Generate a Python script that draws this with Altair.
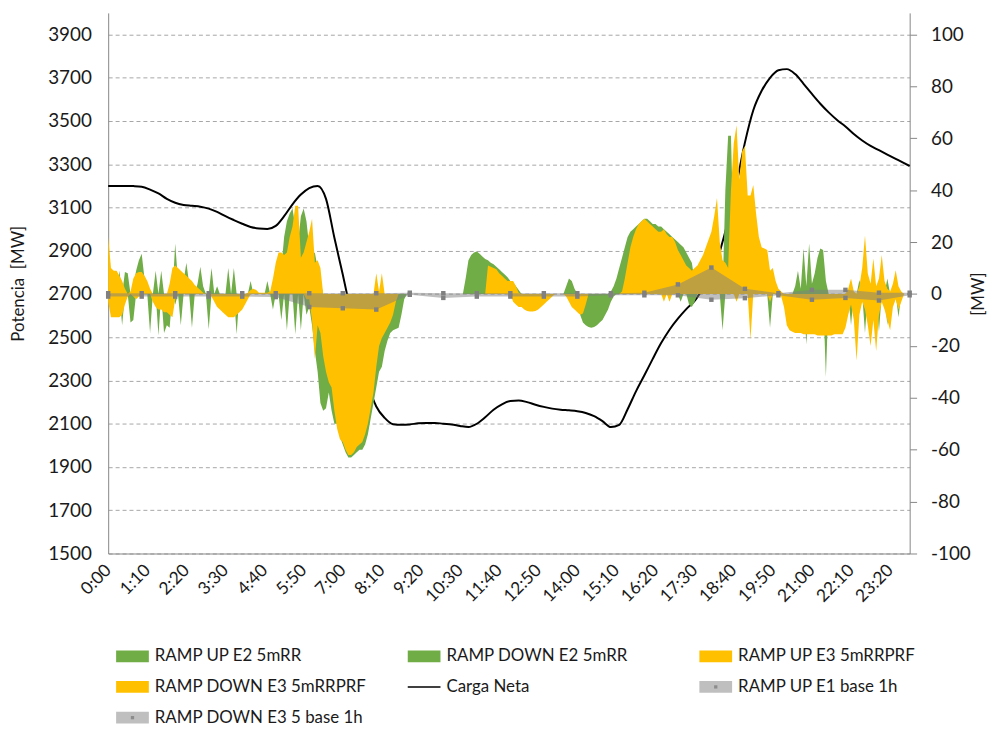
import altair as alt
import pandas as pd

FONT = "Lato"
TXT = "#1a1a1a"
GREEN = "#70AD47"
YELLOW = "#FFC000"
GRAY = "#7F7F7F"

# ---------------- 5-minute series (right axis, MW), 12 values per hour ----------------
ramp_up_e2 = [
    0, 0, 0, 0, 9, 0, 8.5, 8, 0, 3, 9, 13,
    15.5, 6, 0, 0, 0, 9, 0, 9, 0, 0, 0, 0,
    19.5, 5, 0, 5, 12, 4, 0, 0, 4, 10.5, 3, 0,
    0, 10, 0, 3, 0, 0, 0, 10, 0, 10, 0, 0,
    0, 0, 0, 5, 0, 0, 0, 0, 0, 5, 0, 0,
    0, 0, 10, 22, 28, 31, 33, 26, 20, 30, 33, 28,
    18, 15, 16, 10, 5, 0, 0, 0, 0, 0, 0, 0,
    0, 0, 0, 0, 0, 0, 0, 0, 0, 0, 0, 0,
    0, 0, 0, 0, 0, 0, 0, 0, 0, 0, 0, 0,
    0, 0, 0, 0, 0, 0, 0, 0, 0, 0, 0, 0,
    0, 0, 0, 0, 0, 0, 0, 0, 6, 13, 15, 16,
    16.4, 15.5, 14.5, 13.5, 13, 12, 11.5, 10.5, 9.5, 8.5, 7.5, 6.5,
    5, 4.5, 3, 1.5, 0, 0, 0, 0, 0, 0, 0, 0,
    0, 0, 0, 0, 0, 0, 0, 0, 3, 6, 5, 2,
    0, 0, 0, 0, 0, 0, 0, 0, 0, 0, 0, 0,
    1, 3, 6, 10, 14, 18, 22, 24, 25, 26, 27, 28,
    29, 29, 28, 27, 27, 26, 26, 25, 24, 23, 22, 21,
    20, 19, 18, 16, 14, 12, 5, 0, 0, 0, 0, 0,
    0, 0, 0, 0, 0, 40, 61, 61, 20, 0, 0, 0,
    0, 0, 0, 0, 0, 0, 0, 0, 0, 0, 0, 0,
    0, 0, 0, 0, 0, 0, 3, 9, 2, 17.5, 3, 19.5,
    4, 8, 14, 17.5, 17, 5, 0, 0, 0, 0, 0, 0,
    0, 0, 0, 0, 0, 5.4, 0, 0, 0, 0, 0, 0,
    0, 0, 0, 6, 0, 0, 0, 0, 0, 0, 0, 0,
]
ramp_down_e2 = [
    0, 0, 0, 0, 0, -12, 0, 0, -11, -10, 0, 0,
    0, 0, 0, -15, 0, 0, -16, 0, -15, -12, -13, 0,
    -4, 0, -12, 0, 0, 0, -13, 0, 0, 0, 0, 0,
    -13.6, 0, 0, 0, 0, 0, 0, 0, 0, 0, -15.5, 0,
    0, 0, 0, 0, 0, 0, 0, 0, 0, 0, 0, -6,
    0, 0, -10, 0, -14, 0, 0, -15.5, 0, -14, 0, -8,
    -5, -12, -22, -30, -42, -45, -44, -38, -45, -50, -50, -55,
    -58, -61, -63, -63, -62, -61, -60, -60, -58, -54, -48, -42,
    -36, -30, -28, -22, -18, -15, -14, -13.5, -13, -8, -2, 0,
    0, 0, 0, 0, 0, 0, 0, 0, 0, 0, 0, 0,
    0, 0, 0, 0, 0, 0, 0, 0, 0, 0, 0, 0,
    0, 0, 0, 0, 0, 0, 0, 0, 0, 0, 0, 0,
    0, 0, 0, 0, 0, 0, 0, 0, 0, 0, 0, 0,
    0, 0, 0, 0, 0, 0, 0, 0, 0, 0, 0, -2,
    -5, -8, -11, -12, -12.7, -13, -12.7, -12, -11, -10, -8, -6,
    -3, -1, 0, 0, 0, 0, 0, 0, 0, 0, 0, 0,
    0, 0, 0, 0, 0, 0, 0, 0, 0, 0, 0, 0,
    0, -3, 0, 0, -4, -5, -3, 0, 0, 0, 0, 0,
    0, 0, 0, 0, -14, 0, 0, 0, 0, 0, 0, 0,
    0, 0, 0, 0, 0, 0, 0, 0, 0, -13, 0, 0,
    0, 0, 0, 0, 0, 0, 0, 0, 0, 0, -19.5, 0,
    0, 0, 0, 0, 0, -32, 0, 0, 0, 0, 0, 0,
    0, 0, -12, 0, 0, 0, 0, -15, 0, 0, 0, 0,
    -14.5, 0, 0, -12, 0, 0, 0, -9, 0, 0, 0, 0,
]
ramp_up_e3 = [
    22, 10, 9, 9, 7, 5, 2, 0, 1, 6, 8, 8.5,
    8.5, 7, 5, 2, 0, 0, 0, 0, 0, 0, 4, 10,
    11, 10, 9, 8, 7, 6, 5, 3.5, 2.5, 1.5, 0.5, 0,
    0, 0, 0, 0, 0, 0, 0, 0, 0, 0, 0, 0,
    0, 0, 0.5, 1.5, 2, 1.5, 0.5, 0.5, 0.5, 0.5, 1, 6,
    12, 16, 16, 15, 16, 22, 26, 34, 34, 14, 16, 20,
    24, 29, 12, 13, 10, 0, 0, 0, 0, 0, 0, 0,
    0, 0, 0, 0, 0, 0, 0, 0, 0, 0, 0, 0,
    8, 1, 8, 0, 0, 0, 0, 0, 0, 0, 0, 0,
    0, 0, 0, 0, 0, 0, 0, 0, 0, 0, 0, 0,
    0, 0, 0, 0, 0, 0, 0, 0, 0, 0, 0, 0,
    0, 0, 0, 0, 11, 10.5, 10, 9.5, 8, 7, 6, 5,
    5, 5, 3, 0.5, 0, 0, 0, 0, 0, 0, 0, 0,
    0, 0, 0, 0, 0, 0, 0, 0, 0, 0, 0, 0,
    0, 0, 0, 0, 0, 0, 0, 0, 0, 0, 0, 0,
    0, 0, 0, 0, 1, 6, 12, 18, 22, 25, 27, 28,
    29, 28, 27, 26, 25, 24, 24, 25, 23, 22, 22, 20,
    17, 15, 13, 11, 10, 9, 10, 11, 13, 15, 18, 21,
    24, 30, 37, 20, 13, 12, 10, 40, 58, 65, 44, 55,
    57, 38, 38, 42, 31, 22, 18, 17.5, 17, 9, 10, 5,
    2, 1, 0, 0, 0, 0, 0, 0, 0, 0, 0, 0,
    0, 0, 0, 0, 0, 0, 0, 0, 0, 0, 0, 0,
    0, 2, 6, 1, 0, 3, 10, 22.5, 8, 4, 13.7, 3,
    6, 15, 5, 2, 1, 4, 9.2, 3, 1, 0, 0, 0,
]
ramp_down_e3 = [
    -3, -9, -9, -9, -9, -8, -4, -1, 0, -1, -2, -1,
    -1, 0, 0, 0, -3, -5, -6, -6, -7, -7, -8, -9,
    -2, 0, 0, 0, 0, 0, 0, 0, 0, 0, 0, 0,
    0, -1, -3, -5, -6, -7, -8, -9, -9, -9, -8, -7,
    -6, -4, -2, 0, 0, 0, 0, 0, 0, 0, 0, 0,
    0, 0, 0, 0, 0, 0, 0, 0, 0, 0, 0, -2,
    -2, -10, -25, -12, -15, -24, -30, -34, -36, -45, -52, -56,
    -57, -60, -62, -62, -61, -59, -58, -57, -54, -50, -44, -38,
    -28, -20, -17, -15, -13, -11, -8, -3, 0, 0, 0, 0,
    0, 0, 0, 0, 0, 0, 0, 0, 0, 0, 0, 0,
    0, 0, 0, 0, 0, 0, 0, 0, 0, 0, 0, 0,
    0, 0, 0, 0, 0, 0, 0, 0, 0, 0, 0, 0,
    0, -3, -4, -5, -5, -6, -6.5, -6.7, -6.7, -6.5, -6, -5,
    -4, -3, -2, -1, 0, 0, 0, 0, -1, -3, -5, -6,
    -7, -8, -7.5, -4, 0, 0, 0, 0, 0, 0, 0, 0,
    0, 0, 0, 0, 0, 0, 0, 0, 0, 0, 0, 0,
    0, 0, 0, 0, 0, 0, 0, -3, 0, -3, 0, 0,
    0, 0, 0, 0, 0, 0, 0, 0, 0, 0, 0, 0,
    0, 0, 0, 0, 0, 0, 0, 0, 0, -3, 0, 0,
    0, 0, -17.5, 0, 0, 0, 0, 0, 0, -3, 0, 0,
    0, -1, -5, -12, -14, -14.5, -15, -15, -15, -15.5, -15.5, -15.5,
    -15.5, -15.5, -16, -16, -16, -16, -16, -16, -15.5, -15.5, -15.5, -15.5,
    -13, -8, -4, -10, -25.7, -8, -3, -6, -12, -20, -10, -22,
    -8, -3, -6, -10, -14, -5, -2, -6, -3, 0, 0, 0,
]

# ---------------- hourly series (right axis, MW) ----------------
hour_idx = [12 * h for h in range(24)] + [287]
ramp_up_e1_1h = [0.3, 0.3, 0.3, 0.3, 0.3, 0.3, 0.3, 0.3, 0.3, 0.5, 0.3, 0.3,
                 0.3, 0.3, 0.3, 0.3, 0.5, 3.7, 10.2, 2, 0.3, 1.6, 1.6, 0.5, 0.5]
ramp_down_e3_1h = [-1, -1, -1, -1, -1, -1.2, -5, -5.5, -6, -0.3, -1.5, -1,
                   -1, -1, -1, -0.5, -0.5, -0.5, -2.2, -1.6, -0.5, -2.2, -1.5, -2.5, -0.5]

# ---------------- Carga Neta (left axis, MW), every 15 minutes ----------------
carga_idx = list(range(0, 286, 3)) + [287]
carga_neta = [
    3200, 3200, 3200, 3199, 3196, 3183, 3165, 3140, 3122, 3112,
    3108, 3104, 3095, 3080, 3060, 3042, 3025, 3010, 3003, 3001,
    3015, 3060, 3115, 3160, 3190, 3200, 3140, 2960, 2790, 2610,
    2435, 2285, 2180, 2127, 2098, 2095, 2097, 2102, 2104, 2104,
    2100, 2097, 2090, 2085, 2100, 2130, 2165, 2190, 2205, 2208,
    2200, 2188, 2178, 2170, 2165, 2162, 2158, 2150, 2135, 2112,
    2085, 2095, 2167, 2250, 2324, 2400, 2473, 2535, 2586, 2630,
    2668, 2725, 2770, 2895, 3040, 3210, 3400, 3550, 3640, 3700,
    3735, 3740, 3717, 3672, 3625, 3580, 3540, 3505, 3475, 3440,
    3410, 3385, 3365, 3345, 3325, 3305, 3292,
]

tick_idx = list(range(0, 281, 14))
left_ticks = list(range(1500, 3901, 200))
right_ticks = list(range(-100, 101, 20))

series_names = ["RAMP UP E2 5mRR", "RAMP DOWN E2 5mRR", "RAMP UP E3 5mRRPRF",
                "RAMP DOWN E3 5mRRPRF", "Carga Neta", "RAMP UP E1 base 1h",
                "RAMP DOWN E3 5 base 1h"]
series_colors = [GREEN, GREEN, YELLOW, YELLOW, "#000000", "#BFBFBF", "#BFBFBF"]
marker_colors = ["rgba(0,0,0,0)"] * 5 + ["#8C8C8C", "#8C8C8C"]
RECT = "M-1,-0.36H1V0.36H-1Z"
LINE = "M-1,-0.045H1V0.045H-1Z"
DOT = "M-0.1,-0.1H0.1V0.1H-0.1Z"
series_shapes = [RECT, RECT, RECT, RECT, LINE, RECT, RECT]

for s in (ramp_up_e2, ramp_down_e2, ramp_up_e3, ramp_down_e3):
    assert len(s) == 288, len(s)
assert len(carga_idx) == len(carga_neta)
assert len(hour_idx) == len(ramp_up_e1_1h) == len(ramp_down_e3_1h)

df5 = pd.DataFrame({"i": list(range(288)), "gu": ramp_up_e2, "gd": ramp_down_e2,
                    "yu": ramp_up_e3, "yd": ramp_down_e3})
dfh = pd.DataFrame({"i": hour_idx, "up": ramp_up_e1_1h, "down": ramp_down_e3_1h})
dfc = pd.DataFrame({"i": carga_idx, "carga": carga_neta})
marker_names = [n + "\u200b" for n in series_names]
dfl = pd.DataFrame({"series": series_names, "marker": marker_names})

label_expr = ("floor(datum.value/12) + ':' + (datum.value % 12 < 2 ? '0' : '') + "
              "((datum.value % 12) * 5)")
x_enc = alt.X("i:Q",
              scale=alt.Scale(domain=[0, 287], nice=False, zero=False),
              axis=alt.Axis(values=tick_idx, labelExpr=label_expr, labelAngle=315,
                            labelAlign="right", labelBaseline="middle", ticks=False,
                            grid=False, domainColor="#868686", labelFontSize=17.5,
                            labelPadding=14, labelOverlap=False, title=None))

yr_scale = alt.Scale(domain=[-100, 108.333], nice=False, zero=False)
yr_axis = alt.Axis(orient="right", values=right_ticks, grid=False, ticks=True,
                   tickSize=7, tickColor="#868686", domainColor="#868686",
                   labelFontSize=19, labelPadding=14, labelAlign="left",
                   labelExpr="'' + datum.value", labelOverlap=False,
                   title="[MW]", titleFontSize=17, titleFontWeight="normal",
                   titleAngle=270, titleX=69, titleY=283, titleAlign="center",
                   titleBaseline="middle")
yl_scale = alt.Scale(domain=[1500, 4000], nice=False, zero=False)
yl_axis = alt.Axis(orient="left", values=left_ticks, grid=True, gridDash=[4, 3],
                   gridColor="#A6A6A6", ticks=False, domainColor="#868686",
                   labelFontSize=19, labelPadding=17, format="d", labelOverlap=False,
                   title="Potencia \u00a0[MW]", titleFontSize=17,
                   titleFontWeight="normal", titlePadding=20)


def area5(field, color):
    return alt.Chart(df5).mark_area(color=color, opacity=1, strokeWidth=0).encode(
        x=x_enc, y=alt.Y(f"{field}:Q", scale=yr_scale, axis=yr_axis), y2=alt.datum(0))


def areah(field):
    return alt.Chart(dfh).mark_area(color=GRAY, opacity=0.5, strokeWidth=0).encode(
        x=x_enc, y=alt.Y(f"{field}:Q", scale=yr_scale, axis=yr_axis), y2=alt.datum(0))


def pointsh(field):
    return alt.Chart(dfh).mark_square(color="#808080", size=20, opacity=1).encode(
        x=x_enc, y=alt.Y(f"{field}:Q", scale=yr_scale, axis=yr_axis))


legend_common = dict(title=None, orient="none", legendX=8, legendY=632, columns=3,
                     direction="horizontal", gridAlign="all", columnPadding=41,
                     rowPadding=6, labelFont=FONT, labelFontSize=17, labelColor=TXT,
                     symbolSize=1089, symbolStrokeWidth=0, symbolOpacity=1,
                     labelLimit=400, labelOffset=6)
leg = alt.Legend(**legend_common)
leg_marker = alt.Legend(symbolType=DOT, labelOpacity=0, **legend_common)

legend_layer = alt.Chart(dfl).mark_point(filled=True, opacity=0, size=1).encode(
    x=alt.value(0), y=alt.value(0),
    color=alt.Color("series:N", scale=alt.Scale(domain=series_names, range=series_colors),
                    legend=leg),
    shape=alt.Shape("series:N", scale=alt.Scale(domain=series_names, range=series_shapes),
                    legend=leg),
)
marker_layer = alt.Chart(dfl).mark_point(filled=True, opacity=0, size=1).encode(
    x=alt.value(0), y=alt.value(0),
    fill=alt.Fill("marker:N", scale=alt.Scale(domain=marker_names, range=marker_colors),
                  legend=leg_marker),
)

areas = alt.layer(
    area5("gu", GREEN),
    area5("gd", GREEN),
    area5("yu", YELLOW),
    area5("yd", YELLOW),
    areah("up"),
    areah("down"),
    pointsh("up"),
    pointsh("down"),
    legend_layer,
    marker_layer,
)

line = alt.Chart(dfc).mark_line(color="#000000", strokeWidth=2, interpolate="monotone").encode(
    x=x_enc, y=alt.Y("carga:Q", scale=yl_scale, axis=yl_axis))

chart = alt.layer(line, areas).resolve_scale(y="independent").properties(
    width=808, height=545,
    autosize=alt.AutoSizeParams(type="none"),
    padding={"left": 101, "top": 2, "right": 83, "bottom": 175},
).configure_view(stroke=None).configure_axis(
    labelFont=FONT, titleFont=FONT, labelColor=TXT, titleColor=TXT
)

chart.save("out.html", embed_options={"renderer": "svg", "actions": False})
